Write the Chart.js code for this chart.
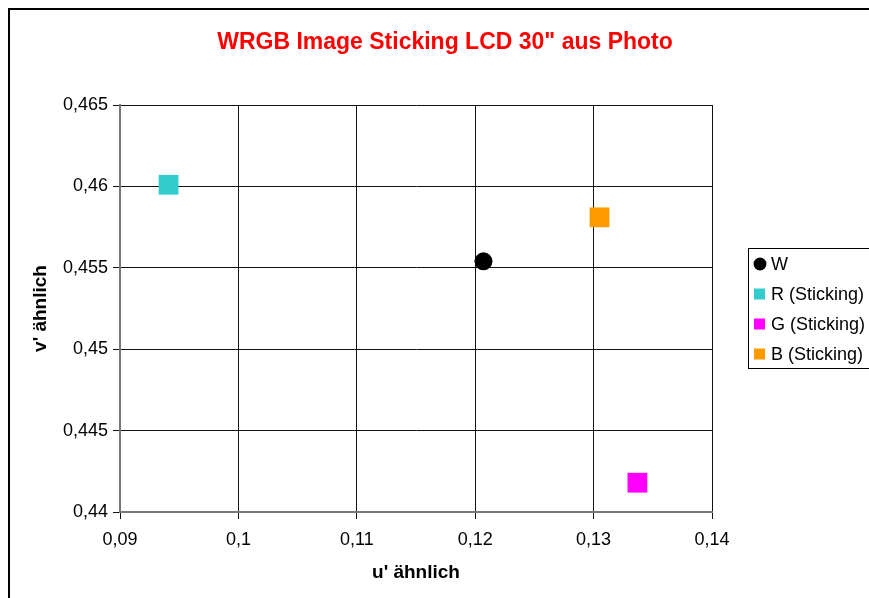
<!DOCTYPE html>
<html>
<head>
<meta charset="utf-8">
<script src="https://cdn.jsdelivr.net/npm/chart.js@4/dist/chart.umd.min.js"></script>
<style>
  html, body { margin: 0; padding: 0; background: #fff; }
  #wrap { width: 869px; height: 598px; }
</style>
</head>
<body>
<div id="wrap"><canvas id="chart" width="869" height="598"></canvas></div>
<script>
// values
const seriesLabels = ['W', 'R (Sticking)', 'G (Sticking)', 'B (Sticking)'];
const uValues = [0.1207, 0.0941, 0.1337, 0.1305];
const vValues = [0.4554, 0.4601, 0.4418, 0.4581];
const seriesColors = ['#000000', '#33CCCC', '#FF00FF', '#FF9900'];
const seriesShapes = ['circle', 'rect', 'rect', 'rect'];

const xTicks = [0.09, 0.10, 0.11, 0.12, 0.13, 0.14];
const xTickLabels = ['0,09', '0,1', '0,11', '0,12', '0,13', '0,14'];
const yTicks = [0.44, 0.445, 0.45, 0.455, 0.46, 0.465];
const yTickLabels = ['0,44', '0,445', '0,45', '0,455', '0,46', '0,465'];

const chartTitle = 'WRGB Image Sticking LCD 30" aus Photo';
const xTitle = "u' ähnlich";
const yTitle = "v' ähnlich";

const FONT = '"Liberation Sans", Arial, sans-serif';

const datasets = seriesLabels.map((label, i) => ({
    label,
    data: [{ x: uValues[i], y: vValues[i] }],
    backgroundColor: seriesColors[i],
    borderColor: seriesColors[i],
    borderWidth: 0,
    pointStyle: seriesShapes[i],
    pointRadius: seriesShapes[i] === 'circle' ? 9 : 14,
    pointHoverRadius: seriesShapes[i] === 'circle' ? 9 : 14
}));

// frame, title and legend drawn like the spreadsheet original
const decorations = {
    id: 'decorations',
    beforeDraw(chart) {
        const ctx = chart.ctx;
        ctx.save();
        ctx.fillStyle = '#fff';
        ctx.fillRect(0, 0, chart.width, chart.height);
        ctx.strokeStyle = '#000';
        ctx.lineWidth = 2;
        ctx.strokeRect(9, 9, 900, 700);
        ctx.restore();
    },
    afterDraw(chart) {
        const ctx = chart.ctx;
        ctx.save();
        ctx.fillStyle = '#FF0000';
        ctx.font = 'bold 23px ' + FONT;
        ctx.textAlign = 'center';
        ctx.textBaseline = 'middle';
        ctx.fillText(chartTitle, 445, 43);

        // legend
        ctx.strokeStyle = '#000';
        ctx.lineWidth = 1;
        ctx.strokeRect(748.5, 248.5, 140, 120);
        ctx.font = '18px ' + FONT;
        ctx.textAlign = 'left';
        ctx.textBaseline = 'middle';
        chart.data.datasets.forEach((ds, i) => {
            const y = 264 + i * 30;
            ctx.fillStyle = ds.backgroundColor;
            if (ds.pointStyle === 'circle') {
                ctx.beginPath();
                ctx.arc(760, y, 6.5, 0, Math.PI * 2);
                ctx.fill();
            } else {
                ctx.fillRect(754, y - 5.5, 11, 11);
            }
            ctx.fillStyle = '#000';
            ctx.fillText(ds.label, 771, y + 1);
        });
        ctx.restore();
    }
};

new Chart(document.getElementById('chart'), {
    type: 'scatter',
    data: { datasets },
    plugins: [decorations],
    options: {
        responsive: false,
        animation: false,
        layout: { padding: { left: 29, top: 105, right: 157, bottom: 14 } },
        plugins: {
            legend: { display: false },
            title: { display: false },
            tooltip: { enabled: false }
        },
        scales: {
            x: {
                type: 'linear',
                min: 0.09,
                max: 0.14,
                afterBuildTicks: s => { s.ticks = xTicks.map(value => ({ value })); },
                afterFit: s => { s.height = 72; },
                ticks: {
                    callback: (v, i) => xTickLabels[i],
                    color: '#000',
                    font: { family: FONT, size: 18 },
                    padding: 10,
                    maxRotation: 0
                },
                grid: { color: '#111', lineWidth: 1, tickLength: 7 },
                border: { color: '#777', width: 2 },
                title: {
                    display: true,
                    text: xTitle,
                    color: '#000',
                    font: { family: FONT, size: 19, weight: 'bold' },
                    padding: 0
                }
            },
            y: {
                type: 'linear',
                min: 0.44,
                max: 0.465,
                afterBuildTicks: s => { s.ticks = yTicks.map(value => ({ value })); },
                afterFit: s => { s.width = 91; },
                ticks: {
                    callback: (v, i) => yTickLabels[i],
                    color: '#000',
                    font: { family: FONT, size: 18 },
                    padding: 5
                },
                grid: { color: '#111', lineWidth: 1, tickLength: 7 },
                border: { color: '#777', width: 2 },
                title: {
                    display: true,
                    text: yTitle,
                    color: '#000',
                    font: { family: FONT, size: 19, weight: 'bold' },
                    padding: 0
                }
            }
        }
    }
});
</script>
</body>
</html>
